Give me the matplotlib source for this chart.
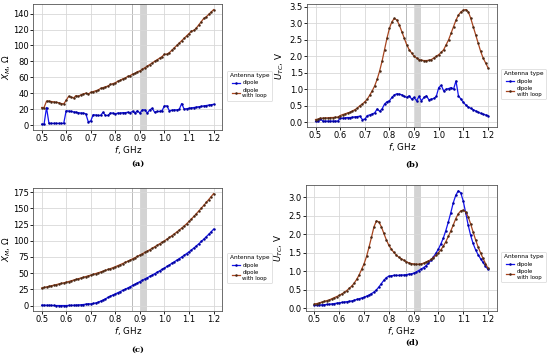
# Mutual reactance and test-circuit voltage vs frequency, 2x2 panels
import matplotlib.pyplot as plt

freq = [0.50, 0.51, 0.52, 0.53, 0.54, 0.55, 0.56, 0.57, 0.58, 0.59,
        0.60, 0.61, 0.62, 0.63, 0.64, 0.65, 0.66, 0.67, 0.68, 0.69,
        0.70, 0.71, 0.72, 0.73, 0.74, 0.75, 0.76, 0.77, 0.78, 0.79,
        0.80, 0.81, 0.82, 0.83, 0.84, 0.85, 0.86, 0.87, 0.88, 0.89,
        0.90, 0.91, 0.92, 0.93, 0.94, 0.95, 0.96, 0.97, 0.98, 0.99,
        1.00, 1.01, 1.02, 1.03, 1.04, 1.05, 1.06, 1.07, 1.08, 1.09,
        1.10, 1.11, 1.12, 1.13, 1.14, 1.15, 1.16, 1.17, 1.18, 1.19, 1.20]

# (a) measured X_M
xa_dip = [1, 1, 22, 2, 2, 2, 2, 2, 2, 2,
          18, 17.5, 17, 16.5, 16, 15.5, 15, 15, 14, 4,
          5, 13, 12.5, 12, 12, 16, 12, 12, 15, 15,
          14, 15, 15, 15.5, 15.5, 16, 15.5, 17, 15, 18,
          15, 19, 19, 15, 19, 21, 16, 17, 17, 18,
          24, 24, 18, 18.5, 19, 19, 19.5, 27, 20, 20.5,
          21, 21.5, 22, 22.5, 23, 23.5, 24, 24.5, 25, 25.5, 26]
xa_loop = [22, 22, 30, 30, 29.5, 29, 28.5, 28, 27, 26.5,
           31, 36, 35, 34, 37, 36, 38, 39, 40, 39,
           41, 42, 43, 44, 46, 47, 48, 49, 51, 52,
           53, 55, 56, 58, 59, 61, 62, 64, 65, 67,
           68, 70, 72, 74, 76, 78, 80, 82, 84, 86,
           89, 89, 91, 94, 97, 100, 103, 106, 109, 112,
           115, 118, 119, 122, 126, 130, 134, 136, 139, 142, 145]

# (b) measured U_TC
ub_dip = [0.02, 0.02, 0.10, 0.03, 0.03, 0.03, 0.03, 0.03, 0.03, 0.03,
          0.12, 0.12, 0.13, 0.14, 0.14, 0.15, 0.16, 0.17, 0.18, 0.08,
          0.09, 0.20, 0.22, 0.25, 0.28, 0.40, 0.33, 0.40, 0.55, 0.62,
          0.65, 0.75, 0.83, 0.86, 0.85, 0.83, 0.78, 0.75, 0.80, 0.70,
          0.75, 0.65, 0.78, 0.65, 0.75, 0.80, 0.68, 0.70, 0.72, 0.78,
          1.05, 1.12, 0.95, 1.00, 1.02, 1.05, 1.00, 1.25, 0.80, 0.70,
          0.60, 0.52, 0.46, 0.42, 0.38, 0.34, 0.30, 0.27, 0.24, 0.22, 0.20]
ub_loop = [0.08, 0.09, 0.12, 0.12, 0.13, 0.13, 0.14, 0.14, 0.15, 0.15,
           0.20, 0.23, 0.25, 0.28, 0.30, 0.34, 0.38, 0.43, 0.50, 0.55,
           0.62, 0.70, 0.82, 0.95, 1.10, 1.30, 1.55, 1.85, 2.20, 2.55,
           2.85, 3.05, 3.15, 3.10, 2.95, 2.75, 2.55, 2.35, 2.20, 2.10,
           2.00, 1.95, 1.90, 1.88, 1.87, 1.87, 1.88, 1.90, 1.95, 2.00,
           2.05, 2.12, 2.20, 2.35, 2.50, 2.70, 2.90, 3.10, 3.25, 3.35,
           3.40, 3.42, 3.35, 3.15, 2.90, 2.65, 2.40, 2.15, 1.95, 1.80, 1.65]

# (c) simulated X_M
xc_dip = [0.5, 0.5, 0.4, 0.3, 0.2, 0.1, 0, 0, 0, 0,
          0, 0.1, 0.2, 0.4, 0.6, 0.9, 1.2, 1.6, 2.1, 2.7,
          2.5, 3.2, 4.0, 5.2, 6.8, 8.5, 10.5, 12.5, 14.5, 16.3,
          18, 19.8, 21.6, 23.4, 25.2, 27, 29, 31, 33, 35,
          37, 39, 41, 43, 45, 47, 49.2, 51.4, 53.6, 55.8,
          58, 60.4, 62.8, 65.2, 67.6, 70, 72.5, 75, 77.6, 80.3,
          83, 86, 89, 92.2, 95.5, 99, 102.6, 106.3, 110, 114, 118]
xc_loop = [27, 27.9, 28.8, 29.7, 30.6, 31.5, 32.4, 33.3, 34.2, 35.1,
           36, 37.1, 38.2, 39.3, 40.4, 41.5, 42.6, 43.7, 44.8, 45.9,
           47, 48.2, 49.4, 50.6, 51.8, 53.1, 54.4, 55.7, 57.1, 58.5,
           60, 61.6, 63.2, 64.9, 66.6, 68.4, 70.2, 72.1, 74, 76,
           78, 80, 82, 84.1, 86.3, 88.5, 90.8, 93.1, 95.4, 97.7,
           100, 102.6, 105.2, 107.9, 110.7, 113.6, 116.6, 119.7, 122.9, 126.3,
           130, 133.9, 137.9, 142, 146.2, 150.5, 154.8, 159.2, 163.7, 168.3, 173]

# (d) simulated U_TC
ud_dip = [0.08, 0.085, 0.09, 0.095, 0.10, 0.105, 0.11, 0.12, 0.13, 0.14,
          0.15, 0.16, 0.17, 0.18, 0.19, 0.20, 0.22, 0.24, 0.26, 0.28,
          0.30, 0.33, 0.36, 0.40, 0.44, 0.50, 0.58, 0.67, 0.76, 0.83,
          0.87, 0.88, 0.89, 0.89, 0.89, 0.90, 0.90, 0.91, 0.92, 0.93,
          0.95, 0.98, 1.02, 1.06, 1.10, 1.15, 1.22, 1.30, 1.39, 1.49,
          1.60, 1.74, 1.90, 2.10, 2.33, 2.58, 2.85, 3.05, 3.17, 3.12,
          2.90, 2.58, 2.25, 1.97, 1.75, 1.58, 1.45, 1.34, 1.24, 1.14, 1.05]
ud_loop = [0.12, 0.13, 0.15, 0.17, 0.19, 0.21, 0.23, 0.26, 0.29, 0.32,
           0.35, 0.39, 0.43, 0.48, 0.54, 0.60, 0.68, 0.78, 0.90, 1.05,
           1.20, 1.40, 1.65, 1.92, 2.20, 2.36, 2.33, 2.20, 2.02, 1.85,
           1.70, 1.60, 1.51, 1.44, 1.38, 1.34, 1.30, 1.26, 1.23, 1.21,
           1.20, 1.19, 1.19, 1.20, 1.22, 1.25, 1.28, 1.32, 1.37, 1.43,
           1.50, 1.58, 1.68, 1.80, 1.94, 2.09, 2.25, 2.42, 2.55, 2.63,
           2.65, 2.60, 2.47, 2.28, 2.06, 1.85, 1.66, 1.50, 1.35, 1.21, 1.08]

xticks = [0.5, 0.6, 0.7, 0.8, 0.9, 1.0, 1.1, 1.2]
yticks_a = [0, 20, 40, 60, 80, 100, 120, 140]
yticks_b = [0.0, 0.5, 1.0, 1.5, 2.0, 2.5, 3.0, 3.5]
yticks_c = [0, 25, 50, 75, 100, 125, 150, 175]
yticks_d = [0.0, 0.5, 1.0, 1.5, 2.0, 2.5, 3.0]

panels = [
    ([0.060, 0.635, 0.344, 0.354], xa_dip, xa_loop, yticks_a, '%d', '$X_M$, Ω', '(a)', (0.251, 0.540)),
    ([0.558, 0.643, 0.345, 0.346], ub_dip, ub_loop, yticks_b, '%.1f', '$U_{TC}$, V', '(b)', (0.749, 0.537)),
    ([0.060, 0.126, 0.344, 0.346], xc_dip, xc_loop, yticks_c, '%d', '$X_M$, Ω', '(c)', (0.251, 0.018)),
    ([0.556, 0.126, 0.347, 0.354], ud_dip, ud_loop, yticks_d, '%.1f', '$U_{TC}$, V', '(d)', (0.749, 0.036)),
]

fig = plt.figure(figsize=(5.5, 3.56), dpi=100)

for rect, dip, loop, yt, yfmt, ylab, cap, cpos in panels:
    ax = fig.add_axes(rect)
    ax.axvspan(0.902, 0.928, color='#d3d3d3', lw=0, zorder=0)
    ax.axvline(0.868, color='#b0b0b0', lw=0.6, zorder=0)
    ax.plot(freq, dip, color='#1414ee', lw=0.9, marker='.', markersize=1.6,
            markerfacecolor='#0000a0', markeredgecolor='#0000a0', label='dipole')
    ax.plot(freq, loop, color='#a8451f', lw=0.9, marker='.', markersize=1.6,
            markerfacecolor='#4a2814', markeredgecolor='#4a2814', label='dipole\nwith loop')
    ax.grid(True, color='#d8d8d8', lw=0.6)
    ax.set_axisbelow(True)
    ax.set_xticks(xticks)
    ax.set_yticks(yt)
    ax.set_yticklabels([yfmt % v for v in yt])
    ax.tick_params(labelsize=6.0, length=2, width=0.6, pad=1)
    for s in ax.spines.values():
        s.set_color('#555555')
        s.set_linewidth(0.6)
    ax.set_xlabel('$f$, GHz', fontsize=6.3, labelpad=0.5)
    ax.set_ylabel(ylab, fontsize=6.3)
    ax.yaxis.set_label_coords(-0.108, 0.5)
    leg = ax.legend(title='Antenna type', fontsize=3.9, title_fontsize=4.2,
                    loc='center left', bbox_to_anchor=(1.01, 0.35),
                    handlelength=1.5, handletextpad=0.5, borderpad=0.5,
                    labelspacing=0.4)
    leg.get_frame().set_linewidth(0.5)
    fig.text(cpos[0], cpos[1], cap, fontsize=6, fontweight='bold',
             family='DejaVu Serif', ha='center', va='center')

fig.savefig('out.png', dpi=100)
